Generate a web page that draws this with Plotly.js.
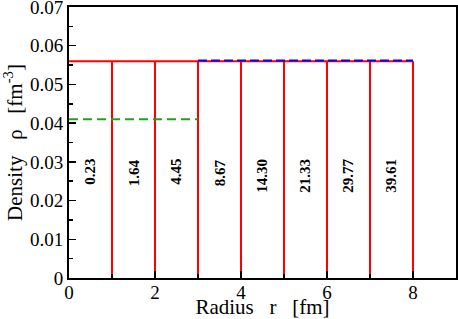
<!DOCTYPE html>
<html>
<head>
<meta charset="utf-8">
<script src="https://cdn.plot.ly/plotly-3.0.1.min.js"></script>
<style>html,body{margin:0;padding:0;background:#fff;}#chart{width:458px;height:319px;}</style>
</head>
<body>
<div id="chart"></div>
<script>
// Shell boundaries (fm) and uniform density of the red step profile
const shellRadii = [0, 1, 2, 3, 4, 5, 6, 7, 8];
const redDensity = 0.056;
// Numbers written inside each shell
const shellLabels = ['0.23', '1.64', '4.45', '8.67', '14.30', '21.33', '29.77', '39.61'];
// Dashed reference densities
const greenRange = [0, 3];
const greenDensity = 0.041;
const blueRange = [3, 8];
const blueDensity = 0.0562;
// Tick labels
const yTickVals = [0, 0.01, 0.02, 0.03, 0.04, 0.05, 0.06, 0.07];
const yTickText = ['0', '0.01', '0.02', '0.03', '0.04', '0.05', '0.06', '0.07'];
const xTickVals = [0, 2, 4, 6, 8];
const xTickText = ['0', '2', '4', '6', '8'];

// Red profile: top line plus vertical shell walls
const rx = [shellRadii[0], shellRadii[shellRadii.length - 1], null];
const ry = [redDensity, redDensity, null];
for (let i = 1; i < shellRadii.length; i++) {
  rx.push(shellRadii[i], shellRadii[i], null);
  ry.push(0, redDensity, null);
}

const traces = [
  {x: rx, y: ry, mode: 'lines', line: {color: '#ff0000', width: 2}, hoverinfo: 'skip'},
  {x: greenRange, y: [greenDensity, greenDensity], mode: 'lines', line: {color: '#22a022', width: 2, dash: '9px,5px'}},
  {x: blueRange, y: [blueDensity, blueDensity], mode: 'lines', line: {color: '#0000ff', width: 2, dash: '9px,4px'}}
];

const serif = '"Liberation Serif", "Times New Roman", Times, serif';
const sp = '\u00a0\u00a0\u00a0';
const annotations = shellLabels.map((t, i) => ({
  x: (shellRadii[i] + shellRadii[i + 1]) / 2,
  y: 0.0312,
  xref: 'x', yref: 'y',
  text: '<b>' + t + '</b>',
  textangle: -90,
  showarrow: false,
  xanchor: 'center', yanchor: 'top',
  font: {family: serif, size: 15, color: '#000'}
}));

const layout = {
  width: 458, height: 319,
  margin: {l: 69, r: 2, t: 7, b: 41},
  paper_bgcolor: '#fff', plot_bgcolor: '#fff',
  showlegend: false,
  font: {family: serif, size: 18, color: '#000'},
  xaxis: {
    range: [0, 9], tickvals: xTickVals, ticktext: xTickText,
    ticks: 'inside', ticklen: 7, tickwidth: 1.5, tickcolor: '#000',
    minor: {dtick: 1, ticks: 'inside', ticklen: 4, tickwidth: 1.5, tickcolor: '#000'},
    showgrid: false, zeroline: false,
    showline: true, linecolor: '#000', linewidth: 2, mirror: true,
    tickfont: {family: serif, size: 19},
    ticklabelstandoff: -4,
    title: {text: 'Radius' + sp + 'r' + sp + '[fm]', font: {family: serif, size: 21}, standoff: 0},
    fixedrange: true
  },
  yaxis: {
    range: [0, 0.07], tickvals: yTickVals, ticktext: yTickText,
    ticks: 'inside', ticklen: 7, tickwidth: 1.5, tickcolor: '#000',
    minor: {dtick: 0.005, tick0: 0, ticks: 'inside', ticklen: 4, tickwidth: 1.5, tickcolor: '#000'},
    showgrid: false, zeroline: false,
    showline: true, linecolor: '#000', linewidth: 2, mirror: true,
    tickfont: {family: serif, size: 19},
    ticklabeloverflow: 'allow',
    title: {text: 'Density' + sp + '\u03c1' + sp + '[fm<sup>-3</sup>]', font: {family: serif, size: 21}, standoff: 5},
    fixedrange: true
  },
  annotations: annotations
};

Plotly.newPlot('chart', traces, layout, {displayModeBar: false, staticPlot: true});
</script>
</body>
</html>
